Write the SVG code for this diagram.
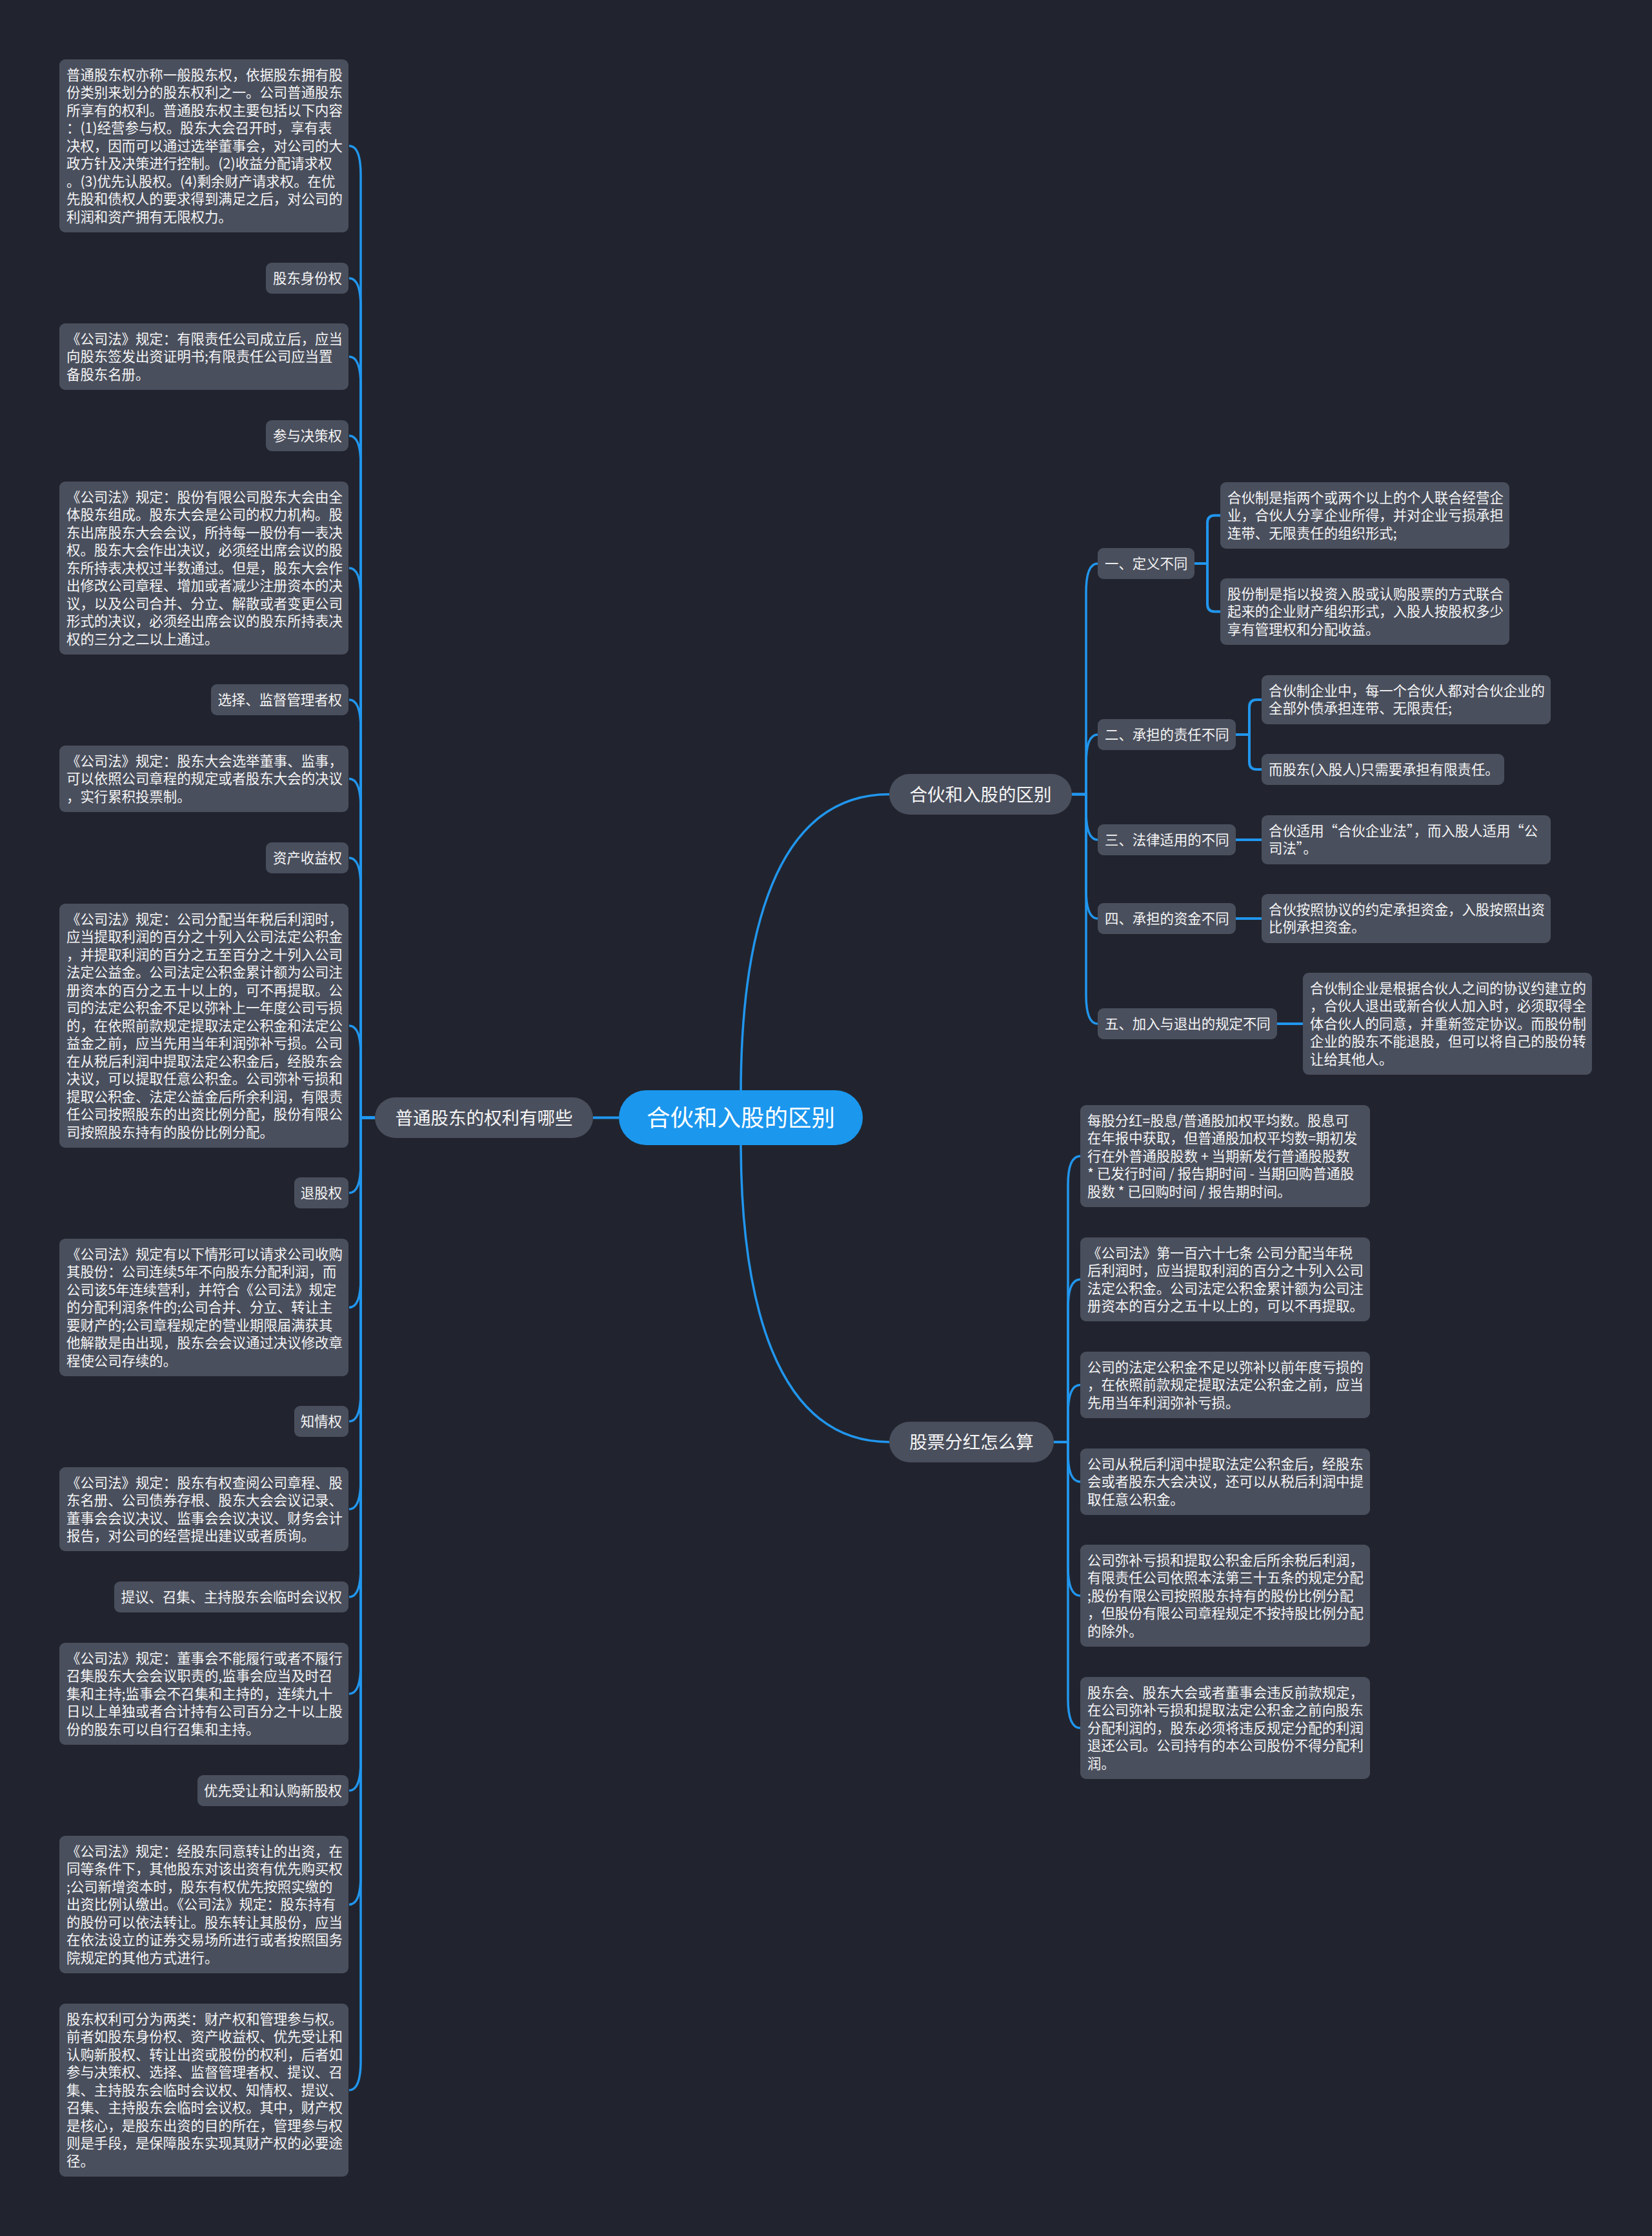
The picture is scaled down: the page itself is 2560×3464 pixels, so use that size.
<svg xmlns="http://www.w3.org/2000/svg" width="2560" height="3464" viewBox="0 0 2560 3464">
<defs>
<style>
.bg{fill:#21242e}
.nd{fill:#4a4f5d}
.t{font-family:"Noto Sans CJK SC","Noto Sans",sans-serif;font-size:21.4px;fill:#f5f5f5}
.te{font-family:"Noto Sans CJK SC","Noto Sans",sans-serif;font-size:21.4px;fill:#f5f5f5;text-anchor:end}
.br{font-family:"Noto Sans CJK SC","Noto Sans",sans-serif;font-size:27.5px;fill:#f5f5f5;text-anchor:middle}
.ct{font-family:"Noto Sans CJK SC","Noto Sans",sans-serif;font-size:36.5px;fill:#ffffff;text-anchor:middle}
.ln{fill:none;stroke:#2196ee;stroke-width:3.5}
.lw{fill:none;stroke:#2196ee;stroke-width:4}
</style>
</defs>
<rect class="bg" x="0" y="0" width="2560" height="3464"/>

<g id="connectors">
<path class="lw" d="M919 1731.5 H959"/>
<path class="ln" d="M1148 1695 C1148 1450 1200 1230.5 1378 1230.5"/>
<path class="ln" d="M1148 1768 C1148 2010 1200 2234 1378 2234"/>
<path class="ln" d="M581 1731.5 H559 V271 Q559 226 541 226"/>
<path class="ln" d="M581 1731.5 H559 V476 Q559 431 541 431"/>
<path class="ln" d="M581 1731.5 H559 V597.5 Q559 552.5 541 552.5"/>
<path class="ln" d="M581 1731.5 H559 V720 Q559 675 541 675"/>
<path class="ln" d="M581 1731.5 H559 V925 Q559 880 541 880"/>
<path class="ln" d="M581 1731.5 H559 V1129 Q559 1084 541 1084"/>
<path class="ln" d="M581 1731.5 H559 V1251.5 Q559 1206.5 541 1206.5"/>
<path class="ln" d="M581 1731.5 H559 V1374 Q559 1329 541 1329"/>
<path class="ln" d="M581 1731.5 H559 V1634 Q559 1589 541 1589"/>
<path class="ln" d="M581 1731.5 H559 V1803 Q559 1848 541 1848"/>
<path class="ln" d="M581 1731.5 H559 V1980.5 Q559 2025.5 541 2025.5"/>
<path class="ln" d="M581 1731.5 H559 V2157 Q559 2202 541 2202"/>
<path class="ln" d="M581 1731.5 H559 V2293 Q559 2338 541 2338"/>
<path class="ln" d="M581 1731.5 H559 V2429 Q559 2474 541 2474"/>
<path class="ln" d="M581 1731.5 H559 V2579 Q559 2624 541 2624"/>
<path class="ln" d="M581 1731.5 H559 V2729 Q559 2774 541 2774"/>
<path class="ln" d="M581 1731.5 H559 V2905.5 Q559 2950.5 541 2950.5"/>
<path class="ln" d="M581 1731.5 H559 V3193 Q559 3238 541 3238"/>
<path class="ln" d="M1661 1230.5 H1683 V918 Q1683 873 1701 873"/>
<path class="ln" d="M1661 1230.5 H1683 V1183 Q1683 1138 1701 1138"/>
<path class="ln" d="M1661 1230.5 H1683 V1256 Q1683 1301 1701 1301"/>
<path class="ln" d="M1661 1230.5 H1683 V1378 Q1683 1423 1701 1423"/>
<path class="ln" d="M1661 1230.5 H1683 V1541 Q1683 1586 1701 1586"/>
<path class="lw" d="M1851 873 H1871 V810 Q1871 798.5 1882.5 798.5 H1891"/>
<path class="lw" d="M1851 873 H1871 V936 Q1871 947.5 1882.5 947.5 H1891"/>
<path class="lw" d="M1915 1138 H1936 V1095.5 Q1936 1084 1947.5 1084 H1955"/>
<path class="lw" d="M1915 1138 H1936 V1180.5 Q1936 1192 1947.5 1192 H1955"/>
<path class="lw" d="M1915 1301 H1955"/>
<path class="lw" d="M1915 1423 H1955"/>
<path class="lw" d="M1979 1586 H2019"/>
<path class="ln" d="M1633 2234 H1655 V1836 Q1655 1791 1674 1791"/>
<path class="ln" d="M1633 2234 H1655 V2027 Q1655 1982 1674 1982"/>
<path class="ln" d="M1633 2234 H1655 V2190.5 Q1655 2145.5 1674 2145.5"/>
<path class="ln" d="M1633 2234 H1655 V2250.5 Q1655 2295.5 1674 2295.5"/>
<path class="ln" d="M1633 2234 H1655 V2427 Q1655 2472 1674 2472"/>
<path class="ln" d="M1633 2234 H1655 V2632 Q1655 2677 1674 2677"/>
</g>

<g id="center">
<rect x="959" y="1689" width="378" height="85" rx="42.5" fill="#1b97ee"/>
<text class="ct" x="1148" y="1744.5">合伙和入股的区别</text>
</g>

<g id="branch-left">
<rect class="nd" x="581" y="1700" width="338" height="63" rx="31.5"/>
<text class="br" x="750" y="1741.5">普通股东的权利有哪些</text>
</g>
<g id="branch-r1">
<rect class="nd" x="1378" y="1199" width="283" height="63" rx="31.5"/>
<text class="br" x="1519.5" y="1240.5">合伙和入股的区别</text>
</g>
<g id="branch-r2">
<rect class="nd" x="1378" y="2202.5" width="255" height="63" rx="31.5"/>
<text class="br" x="1505.5" y="2244">股票分红怎么算</text>
</g>

<g id="L1">
<rect class="nd" x="92" y="92" width="448" height="268" rx="9"/>
<text class="t" x="103" y="123.7"><tspan x="103" dy="0">普通股东权亦称一般股东权，依据股东拥有股</tspan><tspan x="103" dy="27.5">份类别来划分的股东权利之一。公司普通股东</tspan><tspan x="103" dy="27.5">所享有的权利。普通股东权主要包括以下内容</tspan><tspan x="103" dy="27.5">：(1)经营参与权。股东大会召开时，享有表</tspan><tspan x="103" dy="27.5">决权，因而可以通过选举董事会，对公司的大</tspan><tspan x="103" dy="27.5">政方针及决策进行控制。(2)收益分配请求权</tspan><tspan x="103" dy="27.5">。(3)优先认股权。(4)剩余财产请求权。在优</tspan><tspan x="103" dy="27.5">先股和债权人的要求得到满足之后，对公司的</tspan><tspan x="103" dy="27.5">利润和资产拥有无限权力。</tspan></text>
</g>
<g id="L2">
<rect class="nd" x="412" y="407" width="128" height="48" rx="9"/>
<text class="te" x="530" y="438.7">股东身份权</text>
</g>
<g id="L3">
<rect class="nd" x="92" y="501" width="448" height="103" rx="9"/>
<text class="t" x="103" y="532.7"><tspan x="103" dy="0">《公司法》规定：有限责任公司成立后，应当</tspan><tspan x="103" dy="27.5">向股东签发出资证明书;有限责任公司应当置</tspan><tspan x="103" dy="27.5">备股东名册。</tspan></text>
</g>
<g id="L4">
<rect class="nd" x="412" y="651" width="128" height="48" rx="9"/>
<text class="te" x="530" y="682.7">参与决策权</text>
</g>
<g id="L5">
<rect class="nd" x="92" y="746" width="448" height="268" rx="9"/>
<text class="t" x="103" y="777.7"><tspan x="103" dy="0">《公司法》规定：股份有限公司股东大会由全</tspan><tspan x="103" dy="27.5">体股东组成。股东大会是公司的权力机构。股</tspan><tspan x="103" dy="27.5">东出席股东大会会议，所持每一股份有一表决</tspan><tspan x="103" dy="27.5">权。股东大会作出决议，必须经出席会议的股</tspan><tspan x="103" dy="27.5">东所持表决权过半数通过。但是，股东大会作</tspan><tspan x="103" dy="27.5">出修改公司章程、增加或者减少注册资本的决</tspan><tspan x="103" dy="27.5">议，以及公司合并、分立、解散或者变更公司</tspan><tspan x="103" dy="27.5">形式的决议，必须经出席会议的股东所持表决</tspan><tspan x="103" dy="27.5">权的三分之二以上通过。</tspan></text>
</g>
<g id="L6">
<rect class="nd" x="327" y="1060" width="213" height="48" rx="9"/>
<text class="te" x="530" y="1091.7">选择、监督管理者权</text>
</g>
<g id="L7">
<rect class="nd" x="92" y="1155" width="448" height="103" rx="9"/>
<text class="t" x="103" y="1186.7"><tspan x="103" dy="0">《公司法》规定：股东大会选举董事、监事，</tspan><tspan x="103" dy="27.5">可以依照公司章程的规定或者股东大会的决议</tspan><tspan x="103" dy="27.5">，实行累积投票制。</tspan></text>
</g>
<g id="L8">
<rect class="nd" x="412" y="1305" width="128" height="48" rx="9"/>
<text class="te" x="530" y="1336.7">资产收益权</text>
</g>
<g id="L9">
<rect class="nd" x="92" y="1400" width="448" height="378" rx="9"/>
<text class="t" x="103" y="1431.7"><tspan x="103" dy="0">《公司法》规定：公司分配当年税后利润时，</tspan><tspan x="103" dy="27.5">应当提取利润的百分之十列入公司法定公积金</tspan><tspan x="103" dy="27.5">，并提取利润的百分之五至百分之十列入公司</tspan><tspan x="103" dy="27.5">法定公益金。公司法定公积金累计额为公司注</tspan><tspan x="103" dy="27.5">册资本的百分之五十以上的，可不再提取。公</tspan><tspan x="103" dy="27.5">司的法定公积金不足以弥补上一年度公司亏损</tspan><tspan x="103" dy="27.5">的，在依照前款规定提取法定公积金和法定公</tspan><tspan x="103" dy="27.5">益金之前，应当先用当年利润弥补亏损。公司</tspan><tspan x="103" dy="27.5">在从税后利润中提取法定公积金后，经股东会</tspan><tspan x="103" dy="27.5">决议，可以提取任意公积金。公司弥补亏损和</tspan><tspan x="103" dy="27.5">提取公积金、法定公益金后所余利润，有限责</tspan><tspan x="103" dy="27.5">任公司按照股东的出资比例分配，股份有限公</tspan><tspan x="103" dy="27.5">司按照股东持有的股份比例分配。</tspan></text>
</g>
<g id="L10">
<rect class="nd" x="456" y="1824" width="84" height="48" rx="9"/>
<text class="te" x="530" y="1855.7">退股权</text>
</g>
<g id="L11">
<rect class="nd" x="92" y="1919" width="448" height="213" rx="9"/>
<text class="t" x="103" y="1950.7"><tspan x="103" dy="0">《公司法》规定有以下情形可以请求公司收购</tspan><tspan x="103" dy="27.5">其股份：公司连续5年不向股东分配利润，而</tspan><tspan x="103" dy="27.5">公司该5年连续营利，并符合《公司法》规定</tspan><tspan x="103" dy="27.5">的分配利润条件的;公司合并、分立、转让主</tspan><tspan x="103" dy="27.5">要财产的;公司章程规定的营业期限届满获其</tspan><tspan x="103" dy="27.5">他解散是由出现，股东会会议通过决议修改章</tspan><tspan x="103" dy="27.5">程使公司存续的。</tspan></text>
</g>
<g id="L12">
<rect class="nd" x="456" y="2178" width="84" height="48" rx="9"/>
<text class="te" x="530" y="2209.7">知情权</text>
</g>
<g id="L13">
<rect class="nd" x="92" y="2273" width="448" height="130" rx="9"/>
<text class="t" x="103" y="2304.7"><tspan x="103" dy="0">《公司法》规定：股东有权查阅公司章程、股</tspan><tspan x="103" dy="27.5">东名册、公司债券存根、股东大会会议记录、</tspan><tspan x="103" dy="27.5">董事会会议决议、监事会会议决议、财务会计</tspan><tspan x="103" dy="27.5">报告，对公司的经营提出建议或者质询。</tspan></text>
</g>
<g id="L14">
<rect class="nd" x="177" y="2450" width="363" height="48" rx="9"/>
<text class="te" x="530" y="2481.7">提议、召集、主持股东会临时会议权</text>
</g>
<g id="L15">
<rect class="nd" x="92" y="2545" width="448" height="158" rx="9"/>
<text class="t" x="103" y="2576.7"><tspan x="103" dy="0">《公司法》规定：董事会不能履行或者不履行</tspan><tspan x="103" dy="27.5">召集股东大会会议职责的,监事会应当及时召</tspan><tspan x="103" dy="27.5">集和主持;监事会不召集和主持的，连续九十</tspan><tspan x="103" dy="27.5">日以上单独或者合计持有公司百分之十以上股</tspan><tspan x="103" dy="27.5">份的股东可以自行召集和主持。</tspan></text>
</g>
<g id="L16">
<rect class="nd" x="306" y="2750" width="234" height="48" rx="9"/>
<text class="te" x="530" y="2781.7">优先受让和认购新股权</text>
</g>
<g id="L17">
<rect class="nd" x="92" y="2844" width="448" height="213" rx="9"/>
<text class="t" x="103" y="2875.7"><tspan x="103" dy="0">《公司法》规定：经股东同意转让的出资，在</tspan><tspan x="103" dy="27.5">同等条件下，其他股东对该出资有优先购买权</tspan><tspan x="103" dy="27.5">;公司新增资本时，股东有权优先按照实缴的</tspan><tspan x="103" dy="27.5">出资比例认缴出。《公司法》规定：股东持有</tspan><tspan x="103" dy="27.5">的股份可以依法转让。股东转让其股份，应当</tspan><tspan x="103" dy="27.5">在依法设立的证券交易场所进行或者按照国务</tspan><tspan x="103" dy="27.5">院规定的其他方式进行。</tspan></text>
</g>
<g id="L18">
<rect class="nd" x="92" y="3104" width="448" height="268" rx="9"/>
<text class="t" x="103" y="3135.7"><tspan x="103" dy="0">股东权利可分为两类：财产权和管理参与权。</tspan><tspan x="103" dy="27.5">前者如股东身份权、资产收益权、优先受让和</tspan><tspan x="103" dy="27.5">认购新股权、转让出资或股份的权利，后者如</tspan><tspan x="103" dy="27.5">参与决策权、选择、监督管理者权、提议、召</tspan><tspan x="103" dy="27.5">集、主持股东会临时会议权、知情权、提议、</tspan><tspan x="103" dy="27.5">召集、主持股东会临时会议权。其中，财产权</tspan><tspan x="103" dy="27.5">是核心，是股东出资的目的所在，管理参与权</tspan><tspan x="103" dy="27.5">则是手段，是保障股东实现其财产权的必要途</tspan><tspan x="103" dy="27.5">径。</tspan></text>
</g>

<g id="R1">
<rect class="nd" x="1701" y="849" width="150" height="48" rx="9"/>
<text class="t" x="1712" y="880.7">一、定义不同</text>
</g>
<g id="R1a">
<rect class="nd" x="1891" y="747" width="448" height="103" rx="9"/>
<text class="t" x="1902" y="778.7"><tspan x="1902" dy="0">合伙制是指两个或两个以上的个人联合经营企</tspan><tspan x="1902" dy="27.5">业，合伙人分享企业所得，并对企业亏损承担</tspan><tspan x="1902" dy="27.5">连带、无限责任的组织形式;</tspan></text>
</g>
<g id="R1b">
<rect class="nd" x="1891" y="896" width="448" height="103" rx="9"/>
<text class="t" x="1902" y="927.7"><tspan x="1902" dy="0">股份制是指以投资入股或认购股票的方式联合</tspan><tspan x="1902" dy="27.5">起来的企业财产组织形式，入股人按股权多少</tspan><tspan x="1902" dy="27.5">享有管理权和分配收益。</tspan></text>
</g>
<g id="R2">
<rect class="nd" x="1701" y="1114" width="214" height="48" rx="9"/>
<text class="t" x="1712" y="1145.7">二、承担的责任不同</text>
</g>
<g id="R2a">
<rect class="nd" x="1955" y="1046" width="448" height="76" rx="9"/>
<text class="t" x="1966" y="1077.7"><tspan x="1966" dy="0">合伙制企业中，每一个合伙人都对合伙企业的</tspan><tspan x="1966" dy="27.5">全部外债承担连带、无限责任;</tspan></text>
</g>
<g id="R2b">
<rect class="nd" x="1955" y="1168" width="376" height="48" rx="9"/>
<text class="t" x="1966" y="1199.7">而股东(入股人)只需要承担有限责任。</text>
</g>
<g id="R3">
<rect class="nd" x="1701" y="1277" width="214" height="48" rx="9"/>
<text class="t" x="1712" y="1308.7">三、法律适用的不同</text>
</g>
<g id="R3a">
<rect class="nd" x="1955" y="1263" width="448" height="76" rx="9"/>
<text class="t" x="1966" y="1294.7"><tspan x="1966" dy="0">合伙适用“合伙企业法”，而入股人适用“公</tspan><tspan x="1966" dy="27.5">司法”。</tspan></text>
</g>
<g id="R4">
<rect class="nd" x="1701" y="1399" width="214" height="48" rx="9"/>
<text class="t" x="1712" y="1430.7">四、承担的资金不同</text>
</g>
<g id="R4a">
<rect class="nd" x="1955" y="1385" width="448" height="76" rx="9"/>
<text class="t" x="1966" y="1416.7"><tspan x="1966" dy="0">合伙按照协议的约定承担资金，入股按照出资</tspan><tspan x="1966" dy="27.5">比例承担资金。</tspan></text>
</g>
<g id="R5">
<rect class="nd" x="1701" y="1562" width="278" height="48" rx="9"/>
<text class="t" x="1712" y="1593.7">五、加入与退出的规定不同</text>
</g>
<g id="R5a">
<rect class="nd" x="2019" y="1507" width="448" height="158" rx="9"/>
<text class="t" x="2030" y="1538.7"><tspan x="2030" dy="0">合伙制企业是根据合伙人之间的协议约建立的</tspan><tspan x="2030" dy="27.5">，合伙人退出或新合伙人加入时，必须取得全</tspan><tspan x="2030" dy="27.5">体合伙人的同意，并重新签定协议。而股份制</tspan><tspan x="2030" dy="27.5">企业的股东不能退股，但可以将自己的股份转</tspan><tspan x="2030" dy="27.5">让给其他人。</tspan></text>
</g>

<g id="B1">
<rect class="nd" x="1674" y="1712" width="449" height="158" rx="9"/>
<text class="t" x="1685" y="1743.7"><tspan x="1685" dy="0">每股分红=股息/普通股加权平均数。股息可</tspan><tspan x="1685" dy="27.5">在年报中获取，但普通股加权平均数=期初发</tspan><tspan x="1685" dy="27.5">行在外普通股股数 + 当期新发行普通股股数</tspan><tspan x="1685" dy="27.5">* 已发行时间 / 报告期时间 - 当期回购普通股</tspan><tspan x="1685" dy="27.5">股数 * 已回购时间 / 报告期时间。</tspan></text>
</g>
<g id="B2">
<rect class="nd" x="1674" y="1917" width="449" height="130" rx="9"/>
<text class="t" x="1685" y="1948.7"><tspan x="1685" dy="0">《公司法》第一百六十七条 公司分配当年税</tspan><tspan x="1685" dy="27.5">后利润时，应当提取利润的百分之十列入公司</tspan><tspan x="1685" dy="27.5">法定公积金。公司法定公积金累计额为公司注</tspan><tspan x="1685" dy="27.5">册资本的百分之五十以上的，可以不再提取。</tspan></text>
</g>
<g id="B3">
<rect class="nd" x="1674" y="2094" width="449" height="103" rx="9"/>
<text class="t" x="1685" y="2125.7"><tspan x="1685" dy="0">公司的法定公积金不足以弥补以前年度亏损的</tspan><tspan x="1685" dy="27.5">，在依照前款规定提取法定公积金之前，应当</tspan><tspan x="1685" dy="27.5">先用当年利润弥补亏损。</tspan></text>
</g>
<g id="B4">
<rect class="nd" x="1674" y="2244" width="449" height="103" rx="9"/>
<text class="t" x="1685" y="2275.7"><tspan x="1685" dy="0">公司从税后利润中提取法定公积金后，经股东</tspan><tspan x="1685" dy="27.5">会或者股东大会决议，还可以从税后利润中提</tspan><tspan x="1685" dy="27.5">取任意公积金。</tspan></text>
</g>
<g id="B5">
<rect class="nd" x="1674" y="2393" width="449" height="158" rx="9"/>
<text class="t" x="1685" y="2424.7"><tspan x="1685" dy="0">公司弥补亏损和提取公积金后所余税后利润，</tspan><tspan x="1685" dy="27.5">有限责任公司依照本法第三十五条的规定分配</tspan><tspan x="1685" dy="27.5">;股份有限公司按照股东持有的股份比例分配</tspan><tspan x="1685" dy="27.5">，但股份有限公司章程规定不按持股比例分配</tspan><tspan x="1685" dy="27.5">的除外。</tspan></text>
</g>
<g id="B6">
<rect class="nd" x="1674" y="2598" width="449" height="158" rx="9"/>
<text class="t" x="1685" y="2629.7"><tspan x="1685" dy="0">股东会、股东大会或者董事会违反前款规定，</tspan><tspan x="1685" dy="27.5">在公司弥补亏损和提取法定公积金之前向股东</tspan><tspan x="1685" dy="27.5">分配利润的，股东必须将违反规定分配的利润</tspan><tspan x="1685" dy="27.5">退还公司。公司持有的本公司股份不得分配利</tspan><tspan x="1685" dy="27.5">润。</tspan></text>
</g>
</svg>
